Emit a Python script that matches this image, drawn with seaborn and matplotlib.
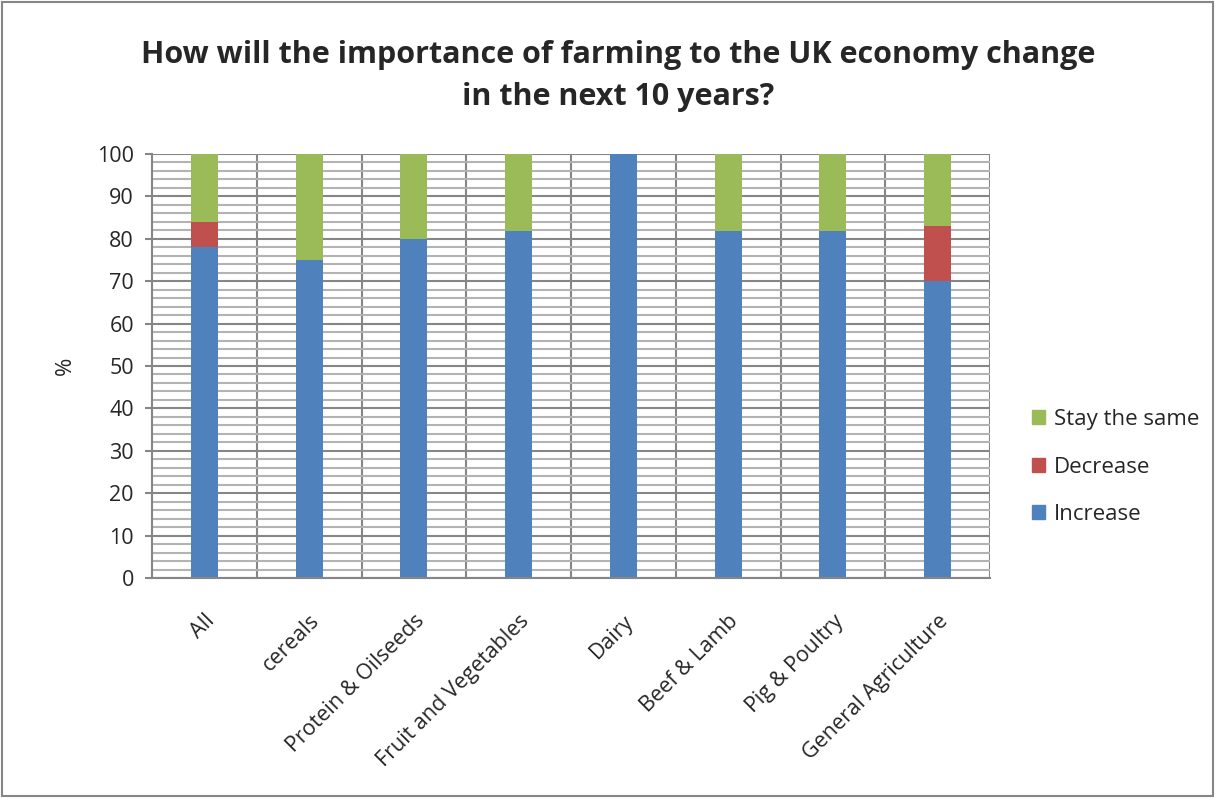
import matplotlib
matplotlib.use("Agg")
import matplotlib.pyplot as plt
import seaborn as sns
import pandas as pd
import numpy as np
from matplotlib.patches import Rectangle, Patch

categories = ["All", "cereals", "Protein & Oilseeds", "Fruit and Vegetables", "Dairy",
              "Beef & Lamb", "Pig & Poultry", "General Agriculture"]
increase = [78, 75, 80, 81.8, 100, 81.8, 81.8, 70]
decrease = [6, 0, 0, 0, 0, 0, 0, 13]
stay_same = [16, 25, 20, 18.2, 0, 18.2, 18.2, 17]

sns.set_style("white")
plt.rcParams['font.family'] = ['Open Sans', 'DejaVu Sans']

df = pd.DataFrame({"cat": categories, "inc": increase, "dec": decrease, "stay": stay_same})
df["top2"] = df["inc"] + df["dec"]
df["top3"] = df["top2"] + df["stay"]

fig = plt.figure(figsize=(12.15, 7.98), dpi=100)
ax = fig.add_axes([152/1215, 1-578/798, (990-152)/1215, (578-154)/798])

c_inc, c_dec, c_stay = "#4F81BD", "#C0504D", "#9BBB59"
sns.barplot(data=df, x="cat", y="top3", color=c_stay, width=0.26, ax=ax, saturation=1, edgecolor="none")
sns.barplot(data=df, x="cat", y="top2", color=c_dec, width=0.26, ax=ax, saturation=1, edgecolor="none")
sns.barplot(data=df, x="cat", y="inc", color=c_inc, width=0.26, ax=ax, saturation=1, edgecolor="none")

ax.set_ylim(0, 100)
ax.set_xlim(-0.5, len(categories) - 0.5)
ax.set_yticks(np.arange(0, 101, 10))
ax.set_yticks(np.arange(0, 101, 2), minor=True)
ax.grid(axis="y", which="minor", color="#b3b3b3", linewidth=1.5, zorder=0)
ax.grid(axis="y", which="major", color="#868686", linewidth=1.5, zorder=0)
for b in np.arange(0.5, len(categories) - 0.5 + 1e-9, 1.0):
    ax.axvline(b, color="#868686", linewidth=1.5, zorder=0.5)
ax.set_axisbelow(True)

for s in ["top", "right"]:
    ax.spines[s].set_visible(False)
for s in ["left", "bottom"]:
    ax.spines[s].set_color("#868686")
    ax.spines[s].set_linewidth(1.5)

ax.tick_params(axis="y", which="major", left=True, length=5, color="#868686", width=1.5,
               labelsize=15.5, pad=8)
ax.tick_params(axis="y", which="minor", left=False)
ax.tick_params(axis="x", bottom=False, labelsize=15.5, pad=20)
ax.set_xticks(range(len(categories)))
ax.set_xticklabels(categories, rotation=45, ha="right", rotation_mode="anchor")
ax.set_xlabel("")
ax.set_ylabel("%", fontsize=16, labelpad=15)

fig.suptitle("How will the importance of farming to the UK economy change\nin the next 10 years?",
             x=618/1215, y=1-40/798, fontsize=22, fontweight="bold", linespacing=1.5, va="top")

handles = [Patch(color=c_stay, label="Stay the same"),
           Patch(color=c_dec, label="Decrease"),
           Patch(color=c_inc, label="Increase")]
fig.legend(handles=handles, loc="center left", bbox_to_anchor=(1032/1215, 1-467/798),
           frameon=False, fontsize=16, handlelength=0.6, handleheight=0.6,
           labelspacing=1.2, handletextpad=0.4, borderpad=0, borderaxespad=0)

fig.patches.append(Rectangle((2/1215, 2/798), 1 - 4/1215, 1 - 4/798, transform=fig.transFigure,
                             fill=False, edgecolor="#868686", linewidth=1.5))

fig.savefig("out.png", dpi=100)
